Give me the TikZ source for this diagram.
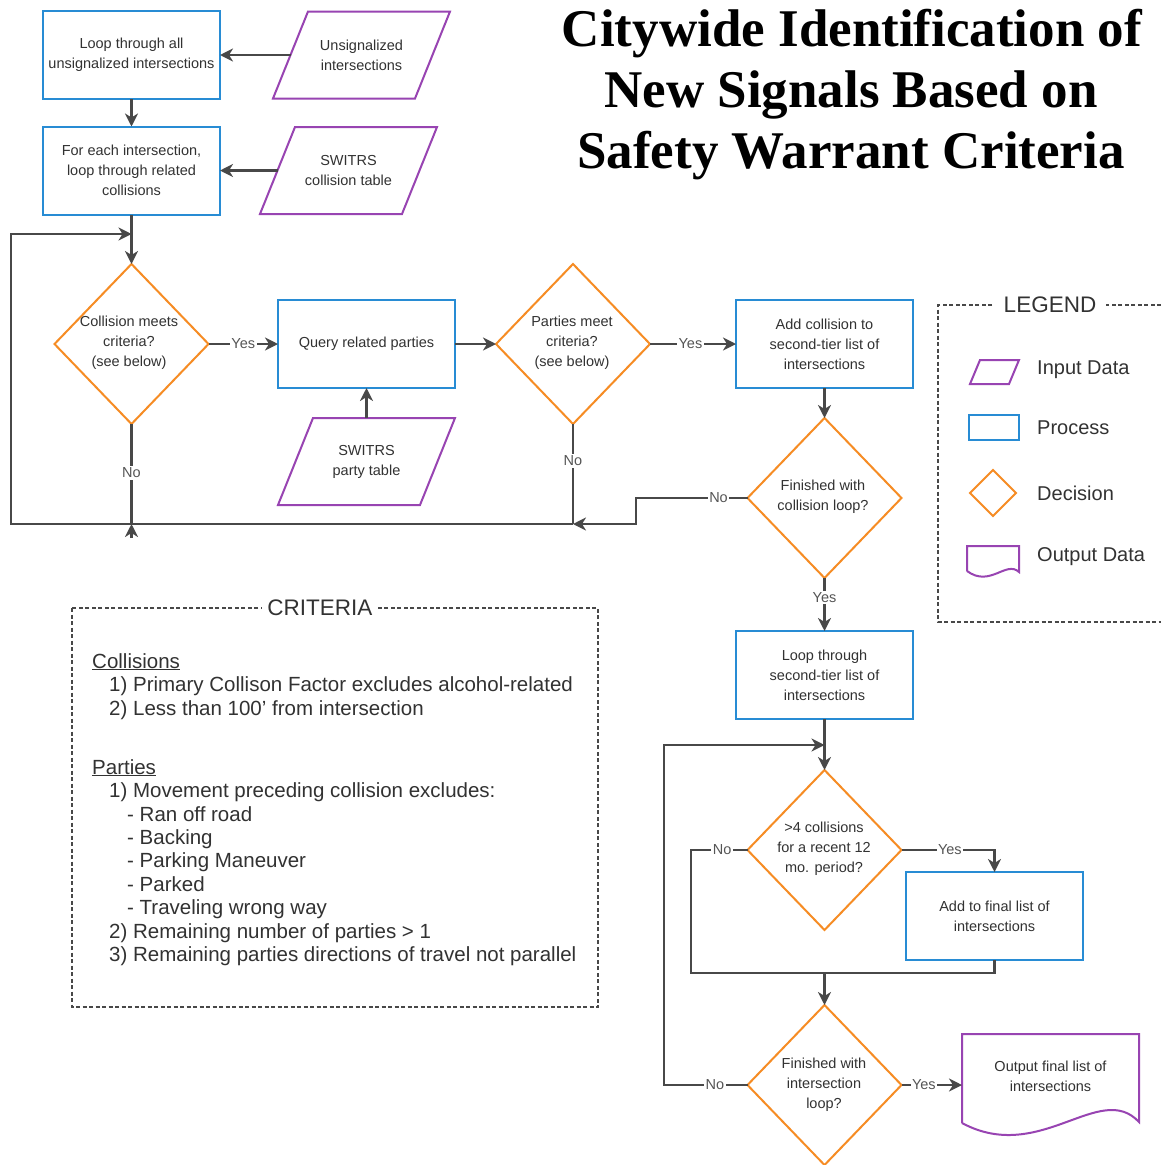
\documentclass[tikz,border=0pt]{standalone}
\usepackage{fontspec}
\setmainfont{Liberation Sans}
\newfontfamily\titlefont{Liberation Serif}
\usetikzlibrary{shapes.geometric,arrows.meta,calc}
\definecolor{procblue}{RGB}{40,140,212}
\definecolor{decor}{RGB}{246,140,36}
\definecolor{datapurple}{RGB}{152,68,178}
\definecolor{linegray}{RGB}{72,72,72}
\definecolor{txt}{RGB}{50,50,50}
\definecolor{lbltxt}{RGB}{85,85,85}
\newcommand{\boxfont}{\fontsize{14.5}{20}\selectfont}
\newcommand{\lblfont}{\fontsize{14.5}{16}\selectfont}
\newcommand{\critfont}{\fontsize{20.5}{23.5}\selectfont}
\newcommand{\drawpara}[1]{\draw[inp] (#1.south west) -- ($(#1.north west)+(35,0)$) -- (#1.north east) -- ($(#1.south east)+(-35,0)$) -- cycle;}
\tikzset{
  process/.style={draw=procblue, line width=2pt, minimum width=177pt, minimum height=88pt,
    align=center, font=\boxfont, text=txt, inner sep=0pt, outer sep=0pt},
  decision/.style={diamond, draw=decor, line width=2pt, minimum width=154pt, minimum height=160pt,
    inner sep=0pt, outer sep=0pt},
  dtext/.style={align=center, font=\boxfont, text=txt, inner sep=0pt},
  datanode/.style={minimum width=177pt, minimum height=87pt, align=center, font=\boxfont,
    text=txt, inner sep=0pt, outer sep=0pt},
  inp/.style={draw=datapurple, line width=2pt, line join=miter},
  conn/.style={draw=linegray, line width=2.6pt},
  arr/.style={conn, -{Stealth[length=13pt,width=13pt,inset=4pt]}},
  lbl/.style={fill=white, font=\lblfont, text=lbltxt, inner sep=1.5pt},
  dashbox/.style={draw=linegray, line width=1.6pt, dash pattern=on 4pt off 2.5pt},
  boxtitle/.style={fill=white, font=\fontsize{22.5}{24}\selectfont, text=txt, inner sep=5pt},
  legtext/.style={anchor=west, font=\fontsize{20}{22}\selectfont, text=txt, inner sep=0pt},
  crit/.style={anchor=base west, font=\critfont, text=txt, inner sep=0pt},
  titleline/.style={anchor=base, font=\titlefont\bfseries\fontsize{53}{61}\selectfont, text=black, inner sep=0pt}
}
\begin{document}
\begin{tikzpicture}[x=1pt,y=-1pt]
\fill[white] (0,0) rectangle (1161,1165);
\useasboundingbox (0,0) rectangle (1161,1165);

% Title
\node[titleline] (t1) at (852,46) {Citywide Identification of};
\node[titleline] (t2) at (851,107) {New Signals Based on};
\node[titleline] (t3) at (851,168) {Safety Warrant Criteria};

% Top-left nodes
\node[process] (b1) at (131.5,55) {Loop through all\\unsignalized intersections};
\node[process] (b2) at (131.5,170.5) {For each intersection,\\loop through related\\collisions};
\node[datanode] (p1) at (361.5,55) {Unsignalized\\intersections};
\drawpara{p1}
\node[datanode] (p2) at (348.5,170.5) {SWITRS\\collision table};
\drawpara{p2}
\coordinate (p1e) at ($(p1.west)+(17.5,0)$);
\coordinate (p2e) at ($(p2.west)+(17.5,0)$);

% Middle row
\node[decision] (d1) at (131.5,344) {};
\node[dtext] (d1t) at (129,343) {Collision meets\\criteria?\\(see below)};
\node[process] (q) at (366.5,344) {Query related parties};
\node[datanode] (p3) at (366.5,461.5) {SWITRS\\party table};
\drawpara{p3}
\node[decision] (d2) at (573,344) {};
\node[dtext] (d2t) at (572,343) {Parties meet\\criteria?\\(see below)};
\node[process] (a1) at (824.5,344) {Add collision to\\second-tier list of\\intersections};
\node[decision] (d3) at (824.5,498) {};
\node[dtext] (d3t) at (823,497) {Finished with\\collision loop?};

% Right column
\node[process] (l2) at (824.5,675) {Loop through\\second-tier list of\\intersections};
\node[decision] (d4) at (824.5,850) {};
\node[dtext] (d4t) at (824,849) {>4 collisions\\for a recent 12\\mo. period?};
\node[process] (f) at (994.5,916) {Add to final list of\\intersections};
\node[decision] (d5) at (824.5,1085) {};
\node[dtext] (d5t) at (824,1085) {Finished with\\intersection\\loop?};
\node[datanode, minimum height=88pt] (out) at (1050.5,1076) {Output final list of\\intersections};
\draw[inp] (962,1123) -- (962,1034) -- (1139,1034) -- (1139,1122)
  .. controls (1100,1080) and (1040,1165) .. (962,1123);

% Connectors: top
\draw[arr] (p1e) -- (b1.east);
\draw[arr] (b1.south) -- (b2.north);
\draw[arr] (p2e) -- (b2.east);
\draw[arr] (b2.south) -- (d1.north);
\draw[arr] (d1.east) -- node[lbl]{Yes} (q.west);
\draw[arr] (p3.north) -- (q.south);
\draw[arr] (q.east) -- (d2.west);
\draw[arr] (d2.east) -- node[lbl,pos=.47]{Yes} (a1.west);
\draw[arr] (a1.south) -- (d3.north);

\coordinate (j1) at (131.5,524);
\coordinate (j1b) at (131.5,538);
\coordinate (j2) at (573,524);
\coordinate (cBL) at (11,524);
\coordinate (cTL) at (11,234);
\coordinate (m1) at (131.5,234);
\coordinate (k1) at (636,498);
\coordinate (k2) at (636,524);

\draw[conn] (d1.south) -- node[lbl,pos=.49]{No} (j1);
\draw[conn] (d2.south) -- node[lbl,pos=.37]{No} (j2);
\draw[arr] (d3.west) -- node[lbl,pos=.26]{No} (k1) -- (k2) -- (j2);
\draw[arr] (j2) -- (cBL) -- (cTL) -- (m1);
\draw[arr] (j1b) -- (j1);

% Connectors: bottom
\draw[arr] (d3.south) -- node[lbl,pos=.36]{Yes} (l2.north);
\draw[arr] (l2.south) -- (d4.north);
\coordinate (m2) at (824.5,745);
\coordinate (cl1) at (664,1085);
\coordinate (cl2) at (664,745);
\draw[arr] (d5.west) -- node[lbl,pos=.39]{No} (cl1) -- (cl2) -- (m2);
\coordinate (n1) at (691,850);
\coordinate (n2) at (691,973);
\coordinate (jn) at (824.5,973);
\coordinate (fy) at (994.5,850);
\coordinate (fb) at (994.5,973);
\draw[conn] (d4.west) -- node[lbl,pos=.45]{No} (n1) -- (n2) -- (jn);
\draw[arr] (d4.east) -- node[lbl,pos=.52]{Yes} (fy) -- (f.north);
\draw[conn] (f.south) -- (fb) -- (jn);
\draw[arr] (jn) -- (d5.north);
\draw[arr] (d5.east) -- node[lbl,pos=.37]{Yes} (d5.east -| out.west);

% Legend
\draw[dashbox] (1161,305) -- (938,305) -- (938,622) -- (1161,622);
\node[boxtitle, inner sep=10pt] (lgt) at (1050,305) {LEGEND};
\draw[inp] (970,384) -- (980,360) -- (1019,360) -- (1009,384) -- cycle;
\draw[draw=procblue, line width=2pt] (969,415) rectangle (1019,440);
\draw[draw=decor, line width=2pt] (993,470) -- (1016,493) -- (993,516) -- (970,493) -- cycle;
\draw[inp] (967,571) -- (967,546) -- (1019,546) -- (1019,572)
  .. controls (1006,560) and (990,588) .. (967,571);
\node[legtext] (lg1) at (1037,370) {Input Data};
\node[legtext] (lg2) at (1037,428) {Process};
\node[legtext] (lg3) at (1037,493) {Decision};
\node[legtext] (lg4) at (1037,557) {Output Data};

% Criteria
\draw[dashbox] (72,608) rectangle (598,1007);
\node[boxtitle] (crt) at (320,608) {CRITERIA};
\node[crit] (c1) at (92,668) {\underline{Collisions}};
\node[crit] (c2) at (109,691) {1) Primary Collison Factor excludes alcohol-related};
\node[crit] (c3) at (109,715) {2) Less than 100' from intersection};
\node[crit] (c4) at (92,774) {\underline{Parties}};
\node[crit] (c5) at (109,797) {1) Movement preceding collision excludes:};
\node[crit] (c6) at (127,821) {- Ran off road};
\node[crit] (c7) at (127,844) {- Backing};
\node[crit] (c8) at (127,867) {- Parking Maneuver};
\node[crit] (c9) at (127,891) {- Parked};
\node[crit] (c10) at (127,914) {- Traveling wrong way};
\node[crit] (c11) at (109,938) {2) Remaining number of parties > 1};
\node[crit] (c12) at (109,961) {3) Remaining parties directions of travel not parallel};
\end{tikzpicture}
\end{document}
